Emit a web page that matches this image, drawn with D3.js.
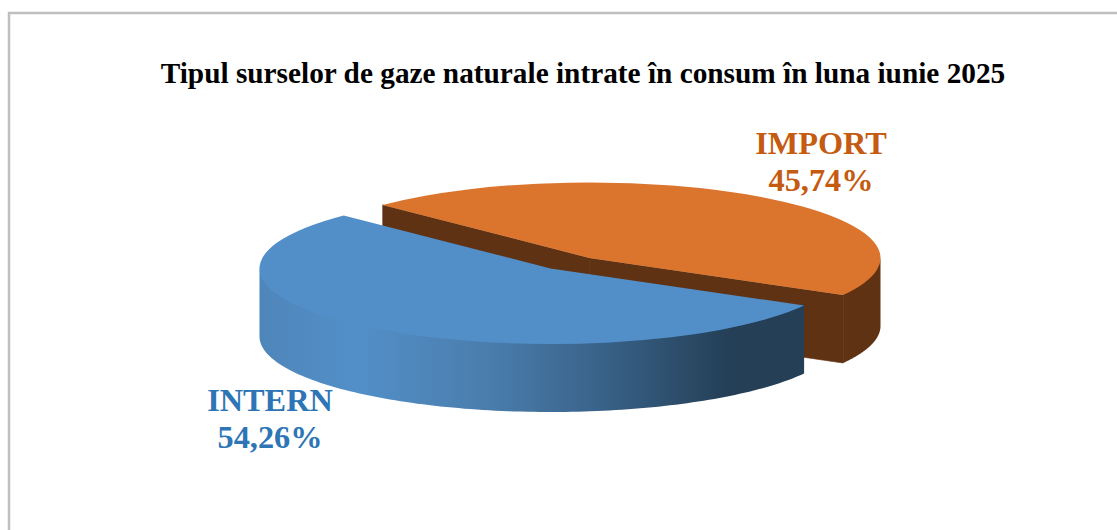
<!DOCTYPE html>
<html>
<head>
<meta charset="utf-8">
<title>Tipul surselor de gaze naturale</title>
<script src="https://cdn.jsdelivr.net/npm/d3@7"></script>
<style>
  html, body { margin: 0; padding: 0; background: #fff; overflow: hidden; }
  text { font-family: "Liberation Serif", serif; font-weight: bold; }
</style>
</head>
<body>
<div id="chart"></div>
<script>
const chartTitle = 'Tipul surselor de gaze naturale intrate în consum în luna iunie 2025';
const categories = ['IMPORT', 'INTERN'];
const shares = [45.74, 54.26];

const width = 1117;
const height = 530;
const radiusX = 291;
const radiusY = 75.5;
const depth = 68;
const firstAngle = -45.3 * Math.PI / 180;

// each slice has its own centre because the pie is exploded
const centers = [{ x: 589.5, y: 258 }, { x: 550.5, y: 268.5 }];
const topColors = ['#db742d', '#528fc8'];
const wallColor = '#5f3213';
const labelColors = ['#c55a11', '#2e75b6'];
const labelPos = [{ x: 821, y: 154 }, { x: 270, y: 411 }];

const percent = d3.formatLocale({ decimal: ',', thousands: '.', grouping: [3], currency: ['', ''] }).format('.2f');

const svg = d3.select('#chart')
  .append('svg')
  .attr('width', width)
  .attr('height', height);

// Wall shading runs left to right
const gradient = svg.append('defs')
  .append('linearGradient')
  .attr('id', 'wall-blue')
  .attr('gradientUnits', 'userSpaceOnUse')
  .attr('x1', 260)
  .attr('x2', 806)
  .attr('y1', 0)
  .attr('y2', 0);

[[0, '#4f86ba'], [0.18, '#528fc8'], [0.42, '#4a7dac'], [0.62, '#39638a'], [0.86, '#243f56'], [1, '#243f56']]
  .forEach(s => gradient.append('stop').attr('offset', s[0]).attr('stop-color', s[1]));

// Chart frame, cropped by the window on the right and bottom
svg.append('rect')
  .attr('x', 9)
  .attr('y', 13)
  .attr('width', width + 20)
  .attr('height', height + 20)
  .attr('fill', 'none')
  .attr('stroke', '#bfbfbf')
  .attr('stroke-width', 2.5);

svg.append('text')
  .attr('x', 583)
  .attr('y', 83)
  .attr('text-anchor', 'middle')
  .attr('font-size', 29.3)
  .attr('fill', '#000')
  .text(chartTitle);

const slices = d3.pie()
  .sort(null)
  .startAngle(firstAngle)
  .endAngle(firstAngle + 2 * Math.PI)(shares);

const rimX = (c, a) => c.x + radiusX * Math.sin(a);
const rimY = (c, a) => c.y - radiusY * Math.cos(a);

// Outer wall between two angles, on the front half of the ellipse.
// Starts a little above the rim so no light seam shows under the top face.
function drawWall(c, a0, a1, fill) {
  const wall = d3.area()
    .x(a => rimX(c, a))
    .y0(a => rimY(c, a) - 2)
    .y1(a => rimY(c, a) + depth);
  svg.append('path')
    .attr('d', wall(d3.range(0, 121).map(i => a0 + (a1 - a0) * i / 120)))
    .attr('fill', fill);
}

// Flat face cut from the centre out to the rim
function drawCut(c, a, fill) {
  const cut = d3.line();
  const rx = rimX(c, a);
  const ry = rimY(c, a);
  svg.append('path')
    .attr('d', cut([[c.x, c.y], [rx, ry], [rx, ry + depth], [c.x, c.y + depth]]) + 'Z')
    .attr('fill', fill)
    .attr('stroke', fill)
    .attr('stroke-width', 0.6);
}

function drawTop(c, slice, fill) {
  const arc = d3.arc().innerRadius(0).outerRadius(radiusX);
  svg.append('path')
    .attr('transform', `translate(${c.x},${c.y}) scale(1,${radiusY / radiusX})`)
    .attr('d', arc(slice))
    .attr('fill', fill);
}

// Back slice first, so the front slice covers its walls
const importSlice = slices[0];
const internSlice = slices[1];

drawCut(centers[0], importSlice.startAngle, wallColor);
drawCut(centers[0], importSlice.endAngle, wallColor);
drawWall(centers[0], Math.PI / 2, importSlice.endAngle, wallColor);
drawTop(centers[0], importSlice, topColors[0]);

drawWall(centers[1], internSlice.startAngle, 1.5 * Math.PI, 'url(#wall-blue)');
drawTop(centers[1], internSlice, topColors[1]);

// Data labels
categories.forEach((name, i) => {
  const label = svg.append('text')
    .attr('text-anchor', 'middle')
    .attr('font-size', 32.3)
    .attr('fill', labelColors[i]);
  label.append('tspan').attr('x', labelPos[i].x).attr('y', labelPos[i].y).text(name);
  label.append('tspan').attr('x', labelPos[i].x).attr('y', labelPos[i].y + 37).text(percent(shares[i]) + '%');
});
</script>
</body>
</html>
